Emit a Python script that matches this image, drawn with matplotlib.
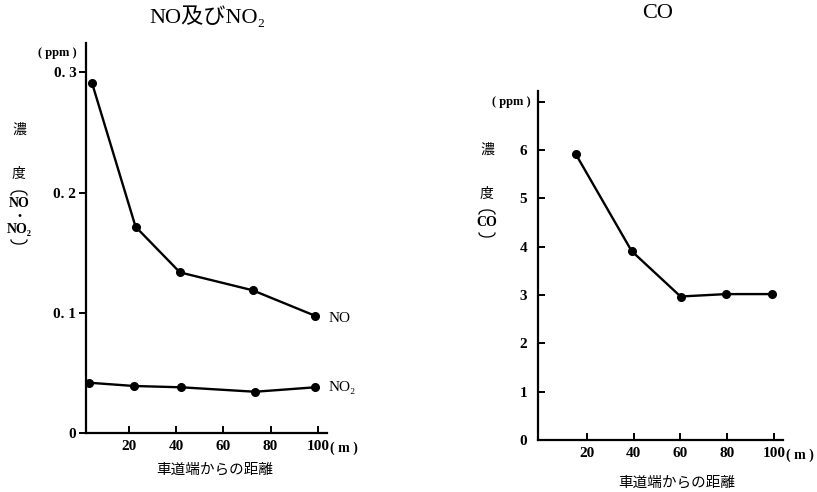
import matplotlib
matplotlib.use("Agg")
import numpy as np
import matplotlib.pyplot as plt

# --- data ---
no_dist = [4.3, 22.8, 41.6, 72.4, 98.8]
no_ppm = [0.2915, 0.1715, 0.1335, 0.1186, 0.0974]
no2_dist = [3.2, 22.1, 42.2, 73.4, 98.8]
no2_ppm = [0.0416, 0.0389, 0.0378, 0.0341, 0.0378]
co_dist = [15.4, 39.2, 60.1, 79.5, 99.3]
co_ppm = [5.91, 3.91, 2.97, 3.02, 3.02]

x_ticks = [20, 40, 60, 80, 100]
left_yticks = [0, 0.1, 0.2, 0.3]
left_ylabels = ["0", "0. 1", "0. 2", "0. 3"]
right_yticks = [0, 1, 2, 3, 4, 5, 6, 7]
right_ylabels = ["0", "1", "2", "3", "4", "5", "6", ""]

SERIF = ["Liberation Serif", "DejaVu Serif", "Noto Sans CJK JP"]
JP = ["Noto Sans CJK JP", "DejaVu Sans"]
W, H = 817, 492

fig = plt.figure(figsize=(W / 100, H / 100), dpi=100)

# full-figure overlay in pixel units (y from top) for the bracket arcs
overlay = fig.add_axes([0, 0, 1, 1], zorder=-1)
overlay.set_xlim(0, W)
overlay.set_ylim(H, 0)
overlay.axis("off")


def px(x, y):
    return x / W, 1 - y / H


def bracket(x, y_top, y_bot, w=16, h=4):
    t = np.linspace(0, np.pi, 30)
    ax_ = x + w / 2 * np.cos(t)
    # upper arc (convex upward), lower arc (convex downward)
    overlay.plot(ax_, y_top - h * np.sin(t), color="black", lw=0.9)
    overlay.plot(ax_, y_bot + h * np.sin(t), color="black", lw=0.9)


def style_axes(ax):
    for s in ("top", "right"):
        ax.spines[s].set_visible(False)
    for s in ("left", "bottom"):
        ax.spines[s].set_linewidth(1.6)
    ax.set_xticks(x_ticks)
    ax.set_xticklabels([str(t) for t in x_ticks])
    ax.tick_params(axis="x", direction="in", length=5, width=1.4, pad=5)
    for lab in ax.get_xticklabels() + ax.get_yticklabels():
        lab.set_family(SERIF)
        lab.set_fontweight("bold")
        lab.set_fontsize(11)


def vertical_label(x, items):
    # items: (text, y pixel, family)
    for txt, y, fam in items:
        fig.text(*px(x, y), txt, ha="center", va="center", family=fam,
                 fontsize=10,
                 fontweight="bold" if fam is SERIF else "normal")


# ---------- left: NO and NO2 ----------
ax1 = fig.add_axes([86 / W, 1 - 432.7 / H, 241 / W, 389.7 / H])
ax1.plot(no_dist, no_ppm, color="black", lw=1.7, marker="o", ms=5.5)
ax1.plot(no2_dist, no2_ppm, color="black", lw=1.7, marker="o", ms=5.5)
ax1.set_xlim(1.8, 103.9)
ax1.set_ylim(0, 0.3245)
ax1.set_yticks(left_yticks)
ax1.set_yticklabels(left_ylabels)
ax1.tick_params(axis="y", direction="out", length=5, width=1.4, pad=2)
style_axes(ax1)

ax1.annotate("NO", (no_dist[-1], no_ppm[-1]), xytext=(10, -2),
             textcoords="offset points", va="center", ha="left",
             family=SERIF, fontsize=11)
ax1.annotate("NO₂", (no2_dist[-1], no2_ppm[-1]), xytext=(10, 0),
             textcoords="offset points", va="center", ha="left",
             family=SERIF, fontsize=11)
ax1.annotate("( m )", (100, 0), xytext=(9, -11), textcoords="offset points",
             va="center", ha="left", family=SERIF, fontweight="bold",
             fontsize=10)

fig.text(*px(207, 17), "NO及びNO₂", ha="center", va="center",
         family=SERIF, fontsize=16)
fig.text(*px(57, 53), "( ppm )", ha="center", va="center",
         family=SERIF, fontweight="bold", fontsize=9)
fig.text(*px(215, 470), "車道端からの距離", ha="center", va="center",
         family=JP, fontsize=10.5)
vertical_label(19, [("濃", 130, JP), ("度", 174, JP),
                    ("NO", 204, SERIF), ("・", 217, JP),
                    ("NO₂", 230, SERIF)])
bracket(19, 195, 240)

# ---------- right: CO ----------
ax2 = fig.add_axes([538.3 / W, 1 - 440 / H, 245 / W, 349.3 / H])
ax2.plot(co_dist, co_ppm, color="black", lw=1.7, marker="o", ms=5.5)
ax2.set_xlim(-0.7, 104)
ax2.set_ylim(0, 7.23)
ax2.set_yticks(right_yticks)
ax2.set_yticklabels(right_ylabels)
ax2.tick_params(axis="y", direction="in", length=5, width=1.4, pad=8)
style_axes(ax2)

ax2.annotate("( m )", (100, 0), xytext=(9, -11), textcoords="offset points",
             va="center", ha="left", family=SERIF, fontweight="bold",
             fontsize=10)

fig.text(*px(658, 14), "CO", ha="center", va="center",
         family=SERIF, fontsize=16)
fig.text(*px(511, 102), "( ppm )", ha="center", va="center",
         family=SERIF, fontweight="bold", fontsize=9)
fig.text(*px(677, 483), "車道端からの距離", ha="center", va="center",
         family=JP, fontsize=10.5)
vertical_label(487, [("濃", 150, JP), ("度", 194, JP),
                     ("CO", 223, SERIF)])
bracket(487, 214, 233)

fig.savefig("out.png", dpi=100)
